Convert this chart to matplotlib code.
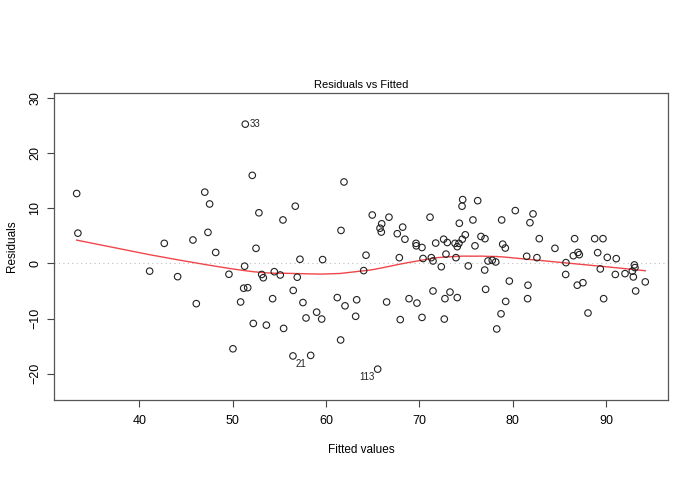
import numpy as np
import matplotlib
matplotlib.use("Agg")
import matplotlib.pyplot as plt

plt.rcParams['font.family'] = ['Liberation Sans', 'DejaVu Sans']

# fitted values and residuals
fitted = [33.27, 33.4, 42.66, 41.09, 44.09, 45.73, 46.09, 47.0, 47.52, 47.34,
          48.17, 49.59, 50.02, 50.84, 51.27, 51.17, 51.6, 51.34, 52.09, 52.8,
          52.49, 52.2, 53.1, 53.27, 53.6, 54.27, 54.45, 55.09, 55.38, 55.45,
          56.45, 56.48, 56.7, 56.91, 57.2, 57.52, 57.85, 58.35, 58.99, 59.53,
          59.63, 61.2, 61.56, 61.6, 61.92, 62.03, 63.17, 63.28, 64.03, 64.28,
          64.95, 65.53, 65.78, 65.96, 65.92, 66.49, 66.74, 67.63, 67.85, 67.95,
          68.21, 68.45, 68.89, 69.64, 69.67, 69.74, 70.28, 70.28, 70.39, 71.14,
          71.28, 71.46, 71.46, 71.75, 72.35, 72.6, 72.67, 72.74, 72.85, 72.99,
          73.28, 73.82, 73.92, 74.06, 74.06, 74.24, 74.28, 74.57, 74.64, 74.6,
          74.92, 75.24, 75.74, 75.96, 76.25, 76.6, 77.03, 77.0, 77.1, 77.35,
          77.81, 78.18, 78.29, 78.75, 78.82, 78.93, 79.21, 79.25, 79.64, 80.28,
          81.5, 81.64, 81.6, 81.85, 82.18, 82.6, 82.85, 84.53, 85.68, 85.71,
          86.5, 86.64, 86.92, 87.0, 87.14, 87.53, 88.07, 88.79, 89.11, 89.39,
          89.68, 89.75, 90.14, 91.0, 91.1, 92.04, 92.82, 92.93, 93.04, 93.1,
          93.18, 94.21]
resid = [12.7, 5.5, 3.65, -1.4, -2.4, 4.26, -7.3, 12.95, 10.8, 5.65,
         2.0, -1.96, -15.5, -7.0, -0.5, -4.5, -4.4, 25.3, 16.0, 9.2,
         2.75, -10.9, -2.0, -2.6, -11.2, -6.4, -1.5, -2.1, 7.9, -11.8,
         -16.8, -4.9, 10.4, -2.5, 0.76, -7.1, -9.9, -16.7, -8.85, -10.1,
         0.7, -6.2, -13.9, 6.0, 14.8, -7.7, -9.6, -6.6, -1.3, 1.5,
         8.8, -19.2, 6.4, 7.2, 5.7, -7.0, 8.4, 5.4, 1.05, -10.2,
         6.6, 4.4, -6.4, 3.65, 3.2, -7.2, 2.9, -9.8, 0.9, 8.4,
         1.05, 0.45, -5.0, 3.7, -0.6, 4.4, -10.1, -6.4, 1.7, 3.8,
         -5.2, 3.65, 1.05, 3.05, -6.2, 3.65, 7.3, 10.4, 11.6, 4.4,
         5.2, -0.45, 7.9, 3.2, 11.4, 4.9, 4.5, -1.2, -4.7, 0.45,
         0.58, 0.27, -11.9, -9.15, 7.9, 3.5, 2.8, -6.9, -3.2, 9.6,
         1.3, -3.95, -6.4, 7.4, 9.0, 1.05, 4.5, 2.75, -2.0, 0.15,
         1.4, 4.5, -3.95, 2.0, 1.6, -3.5, -9.0, 4.5, 1.96, -1.0,
         4.5, -6.4, 1.1, -2.0, 0.87, -1.85, -1.4, -2.45, -0.27, -0.76,
         -5.0, -3.35]
labelled = {"33": (51.34, 25.3), "21": (56.45, -16.8), "113": (65.53, -19.2)}


def lowess(x, y, f=2/3, iters=3):
    # plain lowess, like R's panel.smooth
    x = np.asarray(x, float)
    y = np.asarray(y, float)
    order = np.argsort(x)
    x, y = x[order], y[order]
    n = len(x)
    r = int(np.ceil(f * n))
    fit = np.zeros(n)
    rw = np.ones(n)
    for it in range(iters + 1):
        for i in range(n):
            d = np.abs(x - x[i])
            h = np.sort(d)[r - 1]
            w = np.clip(d / h, 0, 1)
            w = (1 - w ** 3) ** 3 * rw
            sw = w.sum()
            xm = (w * x).sum() / sw
            ym = (w * y).sum() / sw
            sxx = (w * (x - xm) ** 2).sum()
            b = (w * (x - xm) * (y - ym)).sum() / sxx if sxx > 0 else 0
            fit[i] = ym + b * (x[i] - xm)
        res = y - fit
        s = np.median(np.abs(res))
        u = np.clip(res / (6 * s), -1, 1)
        rw = (1 - u ** 2) ** 2
    return x, fit


fig = plt.figure(figsize=(6.95, 4.94), dpi=100)
ax = fig.add_axes([0.0777, 0.1903, 0.9616 - 0.0777, 0.8111 - 0.1903])

ax.axhline(0, color="#bdbdbd", linestyle=(0, (1, 3)), linewidth=0.8, zorder=1)
ax.scatter(fitted, resid, s=22, facecolors="none", edgecolors="#222222",
           linewidths=0.8, zorder=3)
sx, sy = lowess(fitted, resid)
ax.plot(sx, sy, color="#f0464a", linewidth=1.0, zorder=2)

offsets = {"33": (3, 0, "left", "center"),
           "21": (2, -6, "left", "center"),
           "113": (-2, -6, "right", "center")}
for lab, (px, py) in labelled.items():
    dx, dy, ha, va = offsets[lab]
    ax.annotate(lab, (px, py), xytext=(dx, dy), textcoords="offset points",
                ha=ha, va=va, fontsize=7, color="#222222")

ax.set_xlim(30.84, 96.68)
ax.set_ylim(-24.8, 30.9)
ax.set_xticks([40, 50, 60, 70, 80, 90])
ax.set_yticks([-20, -10, 0, 10, 20, 30])
ax.tick_params(direction="out", length=5, width=0.8, color="#444444",
               labelsize=9, pad=6)
ax.tick_params(axis="y", pad=4)
for lbl in ax.get_yticklabels():
    lbl.set_rotation(90)
    lbl.set_va("center")
for sp in ax.spines.values():
    sp.set_color("#555555")
    sp.set_linewidth(0.9)

ax.set_title("Residuals vs Fitted", fontsize=8, pad=4)
ax.set_xlabel("Fitted values", fontsize=8.5, labelpad=12)
ax.set_ylabel("Residuals", fontsize=8.5, labelpad=8)

fig.savefig("out.png", dpi=100)
